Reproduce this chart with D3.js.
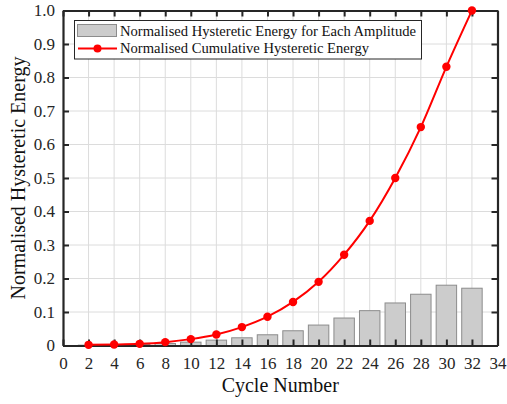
<!DOCTYPE html>
<html>
<head>
<meta charset="utf-8">
<script src="https://cdn.jsdelivr.net/npm/d3@7/dist/d3.min.js"></script>
<style>
  html, body { margin: 0; padding: 0; background: #fff; }
  svg { display: block; }
  svg text, svg .tick text { font-family: "Liberation Serif", "Times New Roman", serif; }
  svg .tick text { font-size: 17px; }
</style>
</head>
<body>
<svg id="chart" width="507" height="404"></svg>
<script>
// Cycle numbers at which each amplitude ends
const cycles = [2, 4, 6, 8, 10, 12, 14, 16, 18, 20, 22, 24, 26, 28, 30, 32];
// Normalised hysteretic energy dissipated in each amplitude
const energyPerAmplitude = [0.001, 0.002, 0.003, 0.006, 0.010, 0.016, 0.023, 0.032,
                            0.044, 0.061, 0.082, 0.104, 0.127, 0.153, 0.180, 0.171];
// Normalised cumulative hysteretic energy
const cumulativeEnergy = [0.002, 0.003, 0.005, 0.010, 0.019, 0.033, 0.055, 0.086,
                          0.130, 0.190, 0.271, 0.372, 0.500, 0.652, 0.832, 1.000];
const xTicks = d3.range(0, 35, 2);
const yTicks = [0, 0.1, 0.2, 0.3, 0.4, 0.5, 0.6, 0.7, 0.8, 0.9, 1.0];
const yTickLabels = ["0", "0.1", "0.2", "0.3", "0.4", "0.5", "0.6", "0.7", "0.8", "0.9", "1.0"];
const legendLabels = ["Normalised Hysteretic Energy for Each Amplitude",
                      "Normalised Cumulative Hysteretic Energy"];

(function () {
const svg = d3.select("#chart");
const pLeft = 63, pRight = 497.5, pTop = 10.5, pBottom = 345.5;

const x = d3.scaleLinear().domain([0, 34]).range([pLeft, pRight]);
const y = d3.scaleLinear().domain([0, 1]).range([pBottom, pTop]);

const axisColor = "#262626";

// grid
const grid = svg.append("g");
grid.selectAll(".gx").data(xTicks.slice(1, -1)).join("line")
  .attr("x1", d => x(d)).attr("x2", d => x(d))
  .attr("y1", pTop).attr("y2", pBottom)
  .attr("stroke", "#dcdcdc").attr("stroke-width", 1);
grid.selectAll(".gy").data(yTicks.slice(1, -1)).join("line")
  .attr("x1", pLeft).attr("x2", pRight)
  .attr("y1", d => y(d)).attr("y2", d => y(d))
  .attr("stroke", "#dcdcdc").attr("stroke-width", 1);

// bars
const barW = (x(2) - x(0)) * 0.8;
svg.append("g").selectAll("rect").data(cycles).join("rect")
  .attr("x", d => x(d) - barW / 2)
  .attr("width", barW)
  .attr("y", (d, i) => y(energyPerAmplitude[i]))
  .attr("height", (d, i) => y(0) - y(energyPerAmplitude[i]))
  .attr("fill", "#cccccc")
  .attr("stroke", "#8c8c8c")
  .attr("stroke-width", 1);

// axes with inward ticks
const tickLen = 6;
const axB = d3.axisBottom(x).tickValues(xTicks).tickSizeInner(-tickLen).tickSizeOuter(0).tickPadding(11);
const axT = d3.axisTop(x).tickValues(xTicks).tickSizeInner(-tickLen).tickSizeOuter(0).tickFormat("");
const axL = d3.axisLeft(y).tickValues(yTicks).tickSizeInner(-tickLen).tickSizeOuter(0).tickPadding(8)
  .tickFormat((d, i) => yTickLabels[i]);
const axR = d3.axisRight(y).tickValues(yTicks).tickSizeInner(-tickLen).tickSizeOuter(0).tickFormat("");

function styleAxis(g) {
  g.attr("font-family", null).attr("font-size", null);
  g.select(".domain").attr("stroke", axisColor).attr("stroke-width", 2.2);
  g.selectAll(".tick line").attr("stroke", axisColor).attr("stroke-width", 2);
  g.selectAll(".tick text").attr("fill", "#262626");
}
svg.append("g").attr("transform", `translate(0,${pBottom})`).call(axB).call(styleAxis);
svg.append("g").attr("transform", `translate(0,${pTop})`).call(axT).call(styleAxis);
svg.append("g").attr("transform", `translate(${pLeft},0)`).call(axL).call(styleAxis);
svg.append("g").attr("transform", `translate(${pRight},0)`).call(axR).call(styleAxis);

// cumulative line
const pts = cycles.map((c, i) => [c, cumulativeEnergy[i]]);
svg.append("path").datum(pts)
  .attr("d", d3.line().x(d => x(d[0])).y(d => y(d[1])).curve(d3.curveMonotoneX))
  .attr("fill", "none").attr("stroke", "#ff0000").attr("stroke-width", 2);
svg.append("g").selectAll("circle").data(pts).join("circle")
  .attr("cx", d => x(d[0])).attr("cy", d => y(d[1])).attr("r", 4.2)
  .attr("fill", "#ff0000");

// legend
const lg = svg.append("g");
lg.append("rect").attr("x", 74.5).attr("y", 20.5).attr("width", 347).attr("height", 38.5)
  .attr("fill", "#fff").attr("stroke", "#262626").attr("stroke-width", 1);
lg.append("rect").attr("x", 77.5).attr("y", 24.5).attr("width", 39).attr("height", 12)
  .attr("fill", "#cccccc").attr("stroke", "#8c8c8c").attr("stroke-width", 1);
lg.append("line").attr("x1", 78).attr("x2", 117).attr("y1", 48.5).attr("y2", 48.5)
  .attr("stroke", "#ff0000").attr("stroke-width", 2);
lg.append("circle").attr("cx", 97.5).attr("cy", 48.5).attr("r", 4).attr("fill", "#ff0000");
lg.selectAll("text").data(legendLabels).join("text")
  .attr("x", 120).attr("y", (d, i) => 35.5 + i * 17)
  .style("font-size", "14.6px").attr("fill", "#111")
  .text(d => d);

// axis titles
svg.append("text").attr("x", x(17)).attr("y", 392)
  .attr("text-anchor", "middle").style("font-size", "20px").attr("fill", "#111")
  .text("Cycle Number");
svg.append("text").attr("transform", `translate(25,${(pTop + pBottom) / 2}) rotate(-90)`)
  .attr("text-anchor", "middle").style("font-size", "20px").attr("fill", "#111")
  .text("Normalised Hysteretic Energy");
})();
</script>
</body>
</html>
